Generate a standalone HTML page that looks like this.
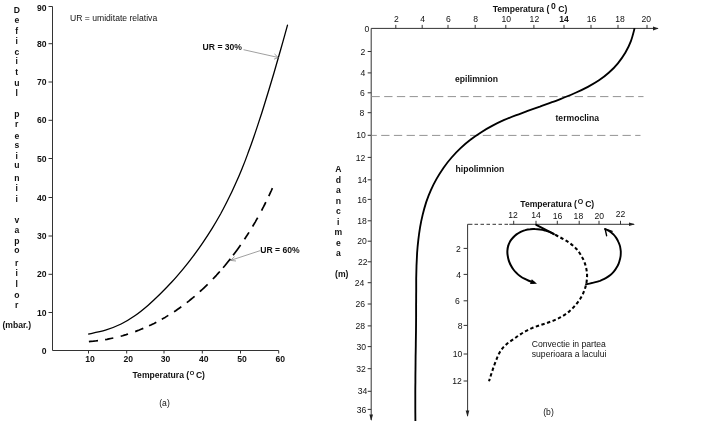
<!DOCTYPE html>
<html lang="ro"><head><meta charset="utf-8"><title>Figura</title>
<style>
html,body{margin:0;padding:0;background:#fff;}
body{width:728px;height:446px;overflow:hidden;}
svg{display:block;filter:grayscale(1);}
text{font-family:"Liberation Sans",sans-serif;font-size:8.60px;fill:#111;}
.b{font-weight:bold;}
.m{text-anchor:middle;}
.e{text-anchor:end;}
.ax{stroke:#333;stroke-width:1;fill:none;}
.cv{stroke:#000;fill:none;stroke-linejoin:round;}
.rc{stroke-linecap:round;}
</style></head><body>
<svg width="728" height="446" viewBox="0 0 728 446">
<rect width="728" height="446" fill="#fff"/>
<g>
<g id="chart-a">
<path class="ax" d="M52.5 6.5 V350.5 H278.7"/>
<path class="ax" d="M52.5 6.5 h-4"/>
<text class="b e" x="46.5" y="11.1">90</text>
<path class="ax" d="M52.5 43.7 h-4"/>
<text class="b e" x="46.5" y="46.8">80</text>
<path class="ax" d="M52.5 82.0 h-4"/>
<text class="b e" x="46.5" y="85.1">70</text>
<path class="ax" d="M52.5 120.3 h-4"/>
<text class="b e" x="46.5" y="123.4">60</text>
<path class="ax" d="M52.5 158.5 h-4"/>
<text class="b e" x="46.5" y="161.6">50</text>
<path class="ax" d="M52.5 197.5 h-4"/>
<text class="b e" x="46.5" y="200.6">40</text>
<path class="ax" d="M52.5 236.0 h-4"/>
<text class="b e" x="46.5" y="239.1">30</text>
<path class="ax" d="M52.5 274.3 h-4"/>
<text class="b e" x="46.5" y="277.4">20</text>
<path class="ax" d="M52.5 312.5 h-4"/>
<text class="b e" x="46.5" y="315.6">10</text>
<text class="b e" x="46.5" y="353.6">0</text>
<path class="ax" d="M88.5 350.5 v3"/>
<text class="b m" x="90.0" y="361.8">10</text>
<path class="ax" d="M126.7 350.5 v3"/>
<text class="b m" x="128.2" y="361.8">20</text>
<path class="ax" d="M164.0 350.5 v3"/>
<text class="b m" x="165.5" y="361.8">30</text>
<path class="ax" d="M202.3 350.5 v3"/>
<text class="b m" x="203.8" y="361.8">40</text>
<path class="ax" d="M240.5 350.5 v3"/>
<text class="b m" x="242.0" y="361.8">50</text>
<path class="ax" d="M278.7 350.5 v3"/>
<text class="b m" x="280.2" y="361.8">60</text>
<text class="b m" x="16.8 16.8 16.8 16.8 16.8 16.8 16.8 16.8 16.8" y="13.2 23.0 33.6 43.9 54.7 64.2 75.3 85.9 95.7">Deficitul</text>
<text class="b m" x="16.8 16.8 16.8 16.8 16.8 16.8 16.8 16.8 16.8" y="116.8 127.4 138.7 148.0 158.5 168.4 180.7 190.7 202.0">presiunii</text>
<text class="b m" x="16.8 16.8 16.8 16.8 16.8 16.8 16.8 16.8 16.8" y="223.2 233.0 244.0 253.1 265.9 276.0 287.3 297.6 308.4">vaporilor</text>
<text class="b m" x="16.8" y="328.3">(mbar.)</text>
<text x="70" y="21.4">UR = umiditate relativa</text>
<text class="b" x="202.6" y="49.5" font-size="8.3">UR = 30%</text>
<text class="b" x="260.2" y="253.4" font-size="8.3">UR = 60%</text>
<text class="b" x="132.5" y="377.6">Temperatura (<tspan dy="-3" dx="0.6" font-size="5.8">O</tspan><tspan dy="3" dx="1.6">C)</tspan></text>
<text class="m" x="164.5" y="405.5">(a)</text>
<path class="cv rc" stroke-width="1.3" d="M88.8 334.0 C91.6 333.4 100.1 331.8 105.5 330.2 C110.9 328.5 116.1 326.4 121.1 324.0 C126.0 321.6 130.7 318.6 135.2 315.5 C139.7 312.4 144.0 308.8 148.2 305.2 C152.4 301.6 156.4 297.7 160.4 293.8 C164.3 289.9 168.2 285.9 172.0 281.8 C175.8 277.7 179.4 273.4 183.0 269.1 C186.6 264.8 190.1 260.4 193.4 255.9 C196.8 251.4 200.1 246.9 203.2 242.2 C206.3 237.6 209.4 232.9 212.3 228.2 C215.2 223.4 218.0 218.6 220.7 213.8 C223.3 208.9 225.9 204.0 228.3 199.0 C230.8 194.1 233.2 189.1 235.4 184.0 C237.7 179.0 239.9 173.9 242.0 168.7 C244.1 163.6 246.1 158.4 248.0 153.1 C250.0 147.9 251.9 142.6 253.7 137.3 C255.5 132.0 257.3 126.7 259.0 121.4 C260.8 116.1 262.5 110.8 264.1 105.5 C265.8 100.1 267.4 94.8 269.0 89.5 C270.6 84.2 272.2 78.8 273.8 73.5 C275.3 68.2 276.9 62.8 278.4 57.5 C279.9 52.1 281.5 46.8 283.0 41.4 C284.5 36.0 286.8 27.9 287.5 25.2"/>
<path class="cv" stroke-width="1.7" d="M88.9 341.6 L90.8 341.4 L93.5 341.2 L95.4 341.0 L98.0 340.7 M105.1 339.6 L107.0 339.3 L108.9 338.9 L110.8 338.5 L113.3 338.0 M120.7 336.2 L122.6 335.7 L124.4 335.1 L126.2 334.6 L128.0 334.0 M135.2 331.6 L136.9 330.9 L139.3 330.0 L141.0 329.3 L143.3 328.4 M149.1 325.8 L150.8 325.0 L152.4 324.2 L154.1 323.4 L156.3 322.2 M161.8 319.2 L163.5 318.3 L165.1 317.4 L166.7 316.4 L168.3 315.4 M174.1 311.7 L175.7 310.7 L177.7 309.3 L179.2 308.2 L181.3 306.8 M186.8 302.6 L188.8 301.1 L190.7 299.5 L192.7 297.9 L194.6 296.3 M199.8 291.7 L201.7 290.0 L203.5 288.3 L205.3 286.6 L207.6 284.4 M212.9 279.0 L214.7 277.1 L216.4 275.3 L218.1 273.4 L219.8 271.5 M223.1 267.7 L224.8 265.8 L226.8 263.3 L228.4 261.3 L230.4 258.9 M233.1 255.3 L235.0 252.8 L236.9 250.2 L238.7 247.7 L240.6 245.1 M244.5 239.3 L245.5 237.7 L246.6 236.1 L247.6 234.5 L249.0 232.4 M252.6 226.5 L253.9 224.3 L255.2 222.1 L256.4 219.9 L257.7 217.8 M261.6 210.6 L262.4 208.9 L263.6 206.7 L264.7 204.5 L265.8 202.2 M268.8 196.1 L269.6 194.4 L270.6 192.2 L271.4 190.5 L272.4 188.2"/>
<g stroke="#777" stroke-width="0.7" fill="none">
<path d="M243.5 49.7 L278.3 57.5 M274.5 54 L278.3 57.5 L274 59.2"/>
<path d="M260 250.7 L230.5 260.4 M234.6 256.6 L230.5 260.4 L236 261"/>
</g>
</g>
<g id="chart-b">
<path class="ax" d="M371.2 420 V28.4 H658"/>
<path d="M658.6 28.4 l-5.6 -2 v4 z" fill="#222"/>
<path d="M371.2 421 l-1.8 -6.5 h3.6 z" fill="#222"/>
<path class="ax" d="M395.8 28.4 v-3.5"/>
<text class="m" x="396.3" y="22.3">2</text>
<path class="ax" d="M422.2 28.4 v-3.5"/>
<text class="m" x="422.7" y="22.3">4</text>
<path class="ax" d="M448.0 28.4 v-3.5"/>
<text class="m" x="448.5" y="21.9">6</text>
<path class="ax" d="M475.2 28.4 v-3.5"/>
<text class="m" x="475.7" y="22.3">8</text>
<path class="ax" d="M505.8 28.4 v-3.5"/>
<text class="m" x="506.3" y="22.3">10</text>
<path class="ax" d="M533.9 28.4 v-3.5"/>
<text class="m" x="534.4" y="21.8">12</text>
<path class="ax" d="M564.0 28.4 v-3.5"/>
<text class="b m" x="564.0" y="22.3">14</text>
<path class="ax" d="M591.0 28.4 v-3.5"/>
<text class="m" x="591.5" y="22.3">16</text>
<path class="ax" d="M618.0 28.4 v-3.5"/>
<text class="m" x="620.0" y="22.3">18</text>
<path class="ax" d="M647.0 28.4 v-3.5"/>
<text class="m" x="646.3" y="21.7">20</text>
<text class="e" x="369.3" y="32.4">0</text>
<path class="ax" d="M371.2 51.5 h-3.5"/>
<text class="e" x="365.3" y="54.6">2</text>
<path class="ax" d="M371.2 72.9 h-3.5"/>
<text class="e" x="365.3" y="76.0">4</text>
<path class="ax" d="M371.2 92.8 h-3.5"/>
<text class="e" x="364.7" y="95.9">6</text>
<path class="ax" d="M371.2 112.7 h-3.5"/>
<text class="e" x="364.3" y="115.8">8</text>
<path class="ax" d="M371.2 135.3 h-3.5"/>
<text class="e" x="365.8" y="138.4">10</text>
<path class="ax" d="M371.2 157.4 h-3.5"/>
<text class="e" x="365.2" y="160.5">12</text>
<path class="ax" d="M371.2 179.8 h-3.5"/>
<text class="e" x="367.0" y="182.9">14</text>
<path class="ax" d="M371.2 199.4 h-3.5"/>
<text class="e" x="366.7" y="202.5">16</text>
<path class="ax" d="M371.2 220.8 h-3.5"/>
<text class="e" x="366.7" y="223.9">18</text>
<path class="ax" d="M371.2 241.2 h-3.5"/>
<text class="e" x="366.7" y="244.3">20</text>
<path class="ax" d="M371.2 261.8 h-3.5"/>
<text class="e" x="367.5" y="264.9">22</text>
<path class="ax" d="M371.2 282.7 h-3.5"/>
<text class="e" x="364.2" y="285.8">24</text>
<path class="ax" d="M371.2 304.0 h-3.5"/>
<text class="e" x="365.0" y="307.1">26</text>
<path class="ax" d="M371.2 325.9 h-3.5"/>
<text class="e" x="365.0" y="329.0">28</text>
<path class="ax" d="M371.2 346.6 h-3.5"/>
<text class="e" x="366.0" y="349.7">30</text>
<path class="ax" d="M371.2 368.7 h-3.5"/>
<text class="e" x="365.7" y="371.8">32</text>
<path class="ax" d="M371.2 391.3 h-3.5"/>
<text class="e" x="367.2" y="394.4">34</text>
<path class="ax" d="M371.2 409.4 h-3.5"/>
<text class="e" x="366.2" y="412.5">36</text>
<text class="b" x="492.7" y="11.9">Temperatura (<tspan dy="-3" dx="1.6">0</tspan><tspan dy="3" dx="2.6">C)</tspan></text>
<path d="M371.5 96.6 H643.5" stroke="#939393" stroke-width="1" stroke-dasharray="8.3 4.4" fill="none"/>
<path d="M371.5 135.4 H640.5" stroke="#939393" stroke-width="1" stroke-dasharray="8.3 4.4" stroke-dashoffset="3" fill="none"/>
<text class="b" x="455" y="81.5">epilimnion</text>
<text class="b" x="555.5" y="121">termoclina</text>
<text class="b" x="455.6" y="171.5">hipolimnion</text>
<text class="b m" x="338.3 338.3 338.3 338.3 338.3 338.3 338.3 338.3 338.3" y="172.3 182.8 193.3 203.8 214.3 224.8 235.3 245.8 256.3">Adancimea</text>
<text class="b m" x="341.8" y="277.3">(m)</text>
<path class="cv" stroke-width="1.85" d="M634.6 28.3 C634.0 30.4 632.5 37.0 630.9 41.1 C629.4 45.2 627.4 49.1 625.3 52.8 C623.1 56.5 620.6 60.0 617.9 63.3 C615.2 66.6 612.2 69.7 609.0 72.5 C605.9 75.3 602.5 77.9 599.0 80.3 C595.4 82.7 591.7 84.8 587.9 86.9 C584.1 88.9 580.2 90.8 576.2 92.5 C572.2 94.3 568.2 95.9 564.2 97.5 C560.1 99.1 556.1 100.7 552.0 102.2 C548.0 103.7 543.9 105.1 539.9 106.6 C535.8 108.0 531.8 109.4 527.7 110.9 C523.7 112.4 519.6 113.8 515.6 115.4 C511.6 116.9 507.6 118.5 503.7 120.2 C499.7 122.0 495.9 123.9 492.1 125.9 C488.3 127.9 484.5 130.0 480.9 132.4 C477.3 134.7 473.7 137.1 470.4 139.8 C467.0 142.4 463.7 145.2 460.6 148.1 C457.4 151.1 454.4 154.2 451.6 157.5 C448.8 160.7 446.1 164.2 443.6 167.7 C441.2 171.2 438.8 174.8 436.7 178.6 C434.6 182.3 432.6 186.2 430.9 190.1 C429.1 194.0 427.6 198.1 426.2 202.1 C424.9 206.2 423.7 210.4 422.7 214.6 C421.7 218.7 420.8 223.0 420.1 227.2 C419.4 231.5 418.8 235.8 418.3 240.1 C417.8 244.4 417.4 248.7 417.1 253.0 C416.9 257.3 416.7 261.6 416.5 265.9 C416.4 270.2 416.3 274.5 416.2 278.8 C416.2 283.1 416.2 287.4 416.2 291.7 C416.1 296.0 416.2 300.3 416.1 304.6 C416.1 308.9 416.1 313.3 416.1 317.6 C416.1 321.9 416.0 326.2 416.0 330.5 C415.9 334.8 415.9 339.1 415.8 343.4 C415.8 347.7 415.7 352.0 415.6 356.4 C415.6 360.7 415.5 365.0 415.5 369.3 C415.4 373.6 415.4 377.9 415.4 382.2 C415.3 386.5 415.3 390.8 415.3 395.1 C415.3 399.4 415.3 403.8 415.3 408.1 C415.3 412.4 415.4 418.8 415.4 421.0"/>
<path class="ax" d="M467.6 416 V224.3"/>
<path class="ax" stroke-dasharray="4.8 2.1 3.5 2.5 3.5 2.5 3.5 2.5 3.5 2.5 3.5 2.5 3.5 2.5 3.5 9" d="M467.6 224.3 H509.3"/>
<path class="ax" d="M509.3 224.3 H634"/>
<path d="M635 224.3 l-6 -1.8 v3.6 z" fill="#222"/>
<path d="M467.5 417 l-1.8 -6.5 h3.6 z" fill="#222"/>
<path class="ax" d="M513.7 224.3 v-3.5"/>
<text class="m" x="513.0" y="218.1">12</text>
<path class="ax" d="M536.0 224.3 v-3.5"/>
<text class="m" x="536.0" y="218.1">14</text>
<path class="ax" d="M557.3 224.3 v-3.5"/>
<text class="m" x="557.5" y="218.6">16</text>
<path class="ax" d="M579.2 224.3 v-3.5"/>
<text class="m" x="578.4" y="218.6">18</text>
<path class="ax" d="M599.0 224.3 v-3.5"/>
<text class="m" x="599.3" y="218.6">20</text>
<path class="ax" d="M620.5 224.3 v-3.5"/>
<text class="m" x="620.5" y="217.1">22</text>
<path class="ax" d="M467.6 248.4 h-4"/>
<text class="e" x="460.7" y="251.5">2</text>
<path class="ax" d="M467.6 274.4 h-4"/>
<text class="e" x="461.0" y="277.5">4</text>
<path class="ax" d="M467.6 300.8 h-4"/>
<text class="e" x="459.8" y="303.9">6</text>
<path class="ax" d="M467.6 325.4 h-4"/>
<text class="e" x="462.5" y="328.5">8</text>
<path class="ax" d="M467.6 354.0 h-4"/>
<text class="e" x="462.2" y="357.1">10</text>
<path class="ax" d="M467.6 381.0 h-4"/>
<text class="e" x="461.8" y="384.1">12</text>
<text class="b" x="520.3" y="207">Temperatura (<tspan dy="-2.8" dx="0.8" font-size="7">O</tspan><tspan dy="2.8" dx="1.9">C)</tspan></text>
<path class="cv" stroke-width="2.05" stroke-dasharray="3.4 2.5" stroke-dashoffset="4.4" d="M553.9 234.0 C554.7 234.5 557.1 235.7 558.7 236.6 C560.3 237.4 561.9 238.3 563.5 239.2 C565.0 240.1 566.6 241.0 568.0 241.9 C569.5 242.9 570.9 243.9 572.3 245.1 C573.7 246.2 575.0 247.4 576.2 248.7 C577.4 250.0 578.5 251.5 579.6 253.0 C580.6 254.5 581.6 256.1 582.4 257.7 C583.3 259.3 584.0 261.1 584.7 262.8 C585.3 264.5 585.8 266.3 586.2 268.1 C586.6 269.9 586.8 271.7 587.0 273.4 C587.1 275.2 587.1 277.0 586.9 278.8 C586.8 280.5 586.6 282.3 586.2 284.0 C585.8 285.7 585.4 287.5 584.8 289.1 C584.2 290.8 583.5 292.5 582.8 294.1 C582.0 295.7 581.1 297.3 580.2 298.8 C579.2 300.3 578.2 301.8 577.1 303.2 C576.0 304.7 574.8 306.0 573.5 307.4 C572.3 308.7 570.9 309.9 569.6 311.1 C568.2 312.3 566.7 313.4 565.3 314.4 C563.8 315.4 562.2 316.4 560.7 317.2 C559.1 318.1 557.5 318.9 555.8 319.6 C554.2 320.3 552.5 321.0 550.8 321.6 C549.1 322.2 547.4 322.8 545.7 323.4 C544.0 323.9 542.2 324.5 540.5 325.1 C538.8 325.6 537.1 326.2 535.4 326.8 C533.7 327.4 532.1 328.1 530.4 328.8 C528.8 329.5 527.2 330.3 525.6 331.2 C524.0 332.0 522.5 333.0 521.0 334.0 C519.5 334.9 518.0 336.0 516.5 337.0 C515.0 338.0 513.5 339.1 512.0 340.1 C510.5 341.2 509.0 342.2 507.6 343.3 C506.3 344.4 504.9 345.6 503.7 346.9 C502.5 348.2 501.4 349.6 500.5 351.1 C499.5 352.5 498.7 354.2 498.0 355.8 C497.2 357.4 496.6 359.1 495.9 360.8 C495.3 362.5 494.6 364.2 494.0 365.9 C493.4 367.7 492.8 369.4 492.3 371.1 C491.7 372.8 491.1 374.5 490.6 376.2 C490.1 377.9 489.3 380.4 489.0 381.3"/>
<path class="cv rc" stroke-width="2" d="M536.2 224.8 L553.2 233.7"/>
<path class="cv rc" stroke-width="2" d="M553.9 234.1 C553.2 233.7 551.0 232.5 549.5 231.9 C548.0 231.3 546.4 230.9 544.9 230.5 C543.3 230.1 541.7 229.8 540.1 229.6 C538.5 229.3 536.8 229.1 535.1 229.1 C533.5 229.0 531.8 229.0 530.2 229.2 C528.6 229.3 526.9 229.6 525.3 230.1 C523.8 230.5 522.2 231.1 520.7 231.8 C519.2 232.6 517.8 233.4 516.5 234.4 C515.2 235.4 514.0 236.5 512.9 237.7 C511.8 238.9 510.8 240.2 510.0 241.6 C509.3 242.9 508.6 244.4 508.2 245.9 C507.7 247.5 507.5 249.1 507.4 250.7 C507.3 252.3 507.4 254.0 507.7 255.7 C507.9 257.3 508.3 259.0 508.8 260.6 C509.3 262.2 510.0 263.8 510.8 265.3 C511.5 266.7 512.4 268.2 513.4 269.5 C514.4 270.8 515.4 272.0 516.6 273.1 C517.7 274.3 519.0 275.3 520.3 276.2 C521.6 277.1 523.0 278.0 524.4 278.7 C525.8 279.5 527.3 280.2 528.8 280.8 C530.3 281.4 532.7 282.2 533.5 282.5"/>
<path d="M537 283.7 l-7 0.2 l1.8 -4.6 z" fill="#000"/>
<path class="cv rc" stroke-width="1.9" d="M586.0 284.2 C586.8 284.1 589.1 283.7 590.7 283.3 C592.2 283.0 593.8 282.6 595.4 282.2 C596.9 281.8 598.5 281.3 600.0 280.8 C601.5 280.2 603.0 279.6 604.4 278.9 C605.9 278.2 607.2 277.3 608.5 276.4 C609.8 275.5 611.0 274.5 612.2 273.3 C613.3 272.2 614.3 271.0 615.3 269.6 C616.2 268.3 617.0 266.9 617.8 265.5 C618.5 264.0 619.1 262.5 619.5 260.9 C620.0 259.4 620.4 257.8 620.6 256.2 C620.8 254.6 620.8 253.0 620.8 251.4 C620.7 249.8 620.4 248.2 620.1 246.6 C619.7 245.1 619.2 243.6 618.5 242.1 C617.9 240.7 617.1 239.2 616.2 237.9 C615.3 236.6 614.3 235.4 613.2 234.2 C612.0 233.1 610.8 232.1 609.4 231.2 C608.0 230.3 605.7 229.3 605.0 229.0"/>
<path class="cv rc" stroke-width="1.4" d="M612.1 231.3 L605.1 228.9 L606.6 235.7"/>
<text x="531.8" y="347.1">Convectie in partea</text>
<text x="531.8" y="356.6">superioara a lacului</text>
<text class="m" x="548.5" y="414.5">(b)</text>
</g>
</g>
</svg>
</body></html>
